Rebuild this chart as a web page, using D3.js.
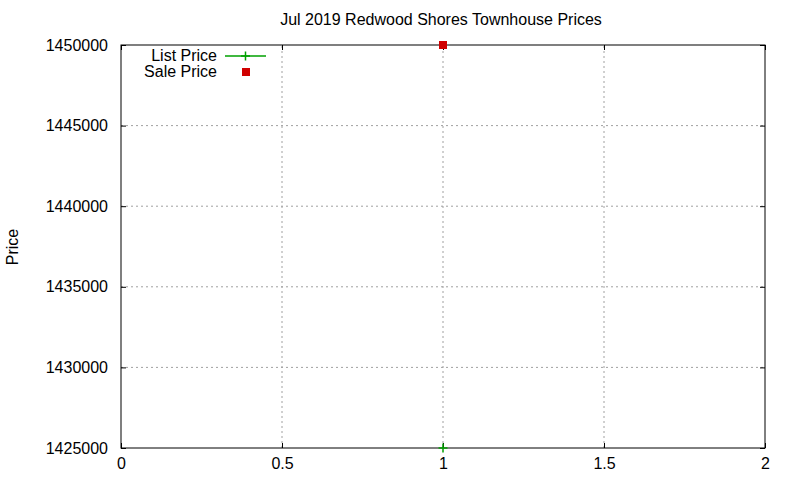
<!DOCTYPE html>
<html>
<head>
<meta charset="utf-8">
<script src="https://cdn.jsdelivr.net/npm/d3@7"></script>
<style>
  body { margin: 0; background: #fff; }
  svg { display: block; font-family: "Liberation Sans", Arial, sans-serif; }
</style>
</head>
<body>
<svg id="chart" width="800" height="480"></svg>
<script>
const seriesNames = ["List Price", "Sale Price"];
const listPrices = [{ x: 1, y: 1425000 }];
const salePrices = [{ x: 1, y: 1450000 }];
const xTicks = [0, 0.5, 1, 1.5, 2];
const yTicks = [1425000, 1430000, 1435000, 1440000, 1445000, 1450000];

const svg = d3.select("#chart");
const margin = { left: 121, right: 35, top: 45, bottom: 32 };
const width = 800, height = 480;
const fs = "16px";

const x = d3.scaleLinear().domain([0, 2]).range([margin.left, width - margin.right]);
const y = d3.scaleLinear().domain([1425000, 1450000]).range([height - margin.bottom, margin.top]);

// grid
svg.append("g")
  .selectAll("line")
  .data(xTicks.slice(1, -1))
  .join("line")
  .attr("x1", d => x(d)).attr("x2", d => x(d))
  .attr("y1", y.range()[0]).attr("y2", y.range()[1])
  .attr("stroke", "#a0a0a0").attr("stroke-dasharray", "2,3");
svg.append("g")
  .selectAll("line")
  .data(yTicks.slice(1, -1))
  .join("line")
  .attr("x1", x.range()[0]).attr("x2", x.range()[1])
  .attr("y1", d => y(d)).attr("y2", d => y(d))
  .attr("stroke", "#a0a0a0").attr("stroke-dasharray", "2,3");

// axes (ticks inward, mirrored)
const tickStyle = g => {
  g.select(".domain").remove();
  g.selectAll("text").attr("fill", "#000").style("font-size", fs);
  g.selectAll("line").attr("stroke", "#000");
};
svg.append("g")
  .attr("transform", `translate(0,${y.range()[0]})`)
  .call(d3.axisBottom(x).tickValues(xTicks).tickSize(-5).tickPadding(10).tickFormat(d3.format("")))
  .call(tickStyle);
svg.append("g")
  .attr("transform", `translate(0,${y.range()[1]})`)
  .call(d3.axisTop(x).tickValues(xTicks).tickSize(-5).tickFormat(""))
  .call(tickStyle);
svg.append("g")
  .attr("transform", `translate(${x.range()[0]},0)`)
  .call(d3.axisLeft(y).tickValues(yTicks).tickSize(-5).tickPadding(13).tickFormat(d3.format("d")))
  .call(tickStyle);
svg.append("g")
  .attr("transform", `translate(${x.range()[1]},0)`)
  .call(d3.axisRight(y).tickValues(yTicks).tickSize(-5).tickFormat(""))
  .call(tickStyle);

// border
svg.append("rect")
  .attr("x", x.range()[0]).attr("y", y.range()[1])
  .attr("width", x.range()[1] - x.range()[0])
  .attr("height", y.range()[0] - y.range()[1])
  .attr("fill", "none").attr("stroke", "#000");

// points
const cross = (g, px, py, s) => {
  g.append("path")
    .attr("d", `M${px - s},${py}H${px + s}M${px},${py - s}V${py + s}`)
    .attr("stroke", "#00a000").attr("stroke-width", 1.5).attr("fill", "none");
};
listPrices.forEach(d => cross(svg, x(d.x), y(d.y), 4.5));
svg.selectAll("rect.sale")
  .data(salePrices)
  .join("rect")
  .attr("class", "sale")
  .attr("x", d => x(d.x) - 4).attr("y", d => y(d.y) - 4)
  .attr("width", 8).attr("height", 8)
  .attr("fill", "#d00000");

// legend
const leg = svg.append("g").style("font-size", fs);
leg.append("text").attr("x", 217).attr("y", 61).attr("text-anchor", "end").text(seriesNames[0]);
leg.append("line").attr("x1", 225).attr("x2", 266).attr("y1", 56).attr("y2", 56)
  .attr("stroke", "#00a000").attr("stroke-width", 1.5);
cross(leg, 245.5, 56, 4.5);
leg.append("text").attr("x", 217).attr("y", 77).attr("text-anchor", "end").text(seriesNames[1]);
leg.append("rect").attr("x", 242).attr("y", 68).attr("width", 8).attr("height", 8).attr("fill", "#d00000");

// title & label
svg.append("text").attr("x", 441).attr("y", 25).attr("text-anchor", "middle")
  .style("font-size", fs).text("Jul 2019 Redwood Shores Townhouse Prices");
svg.append("text").attr("transform", "translate(18,247) rotate(-90)").attr("text-anchor", "middle")
  .style("font-size", fs).text("Price");
</script>
</body>
</html>
